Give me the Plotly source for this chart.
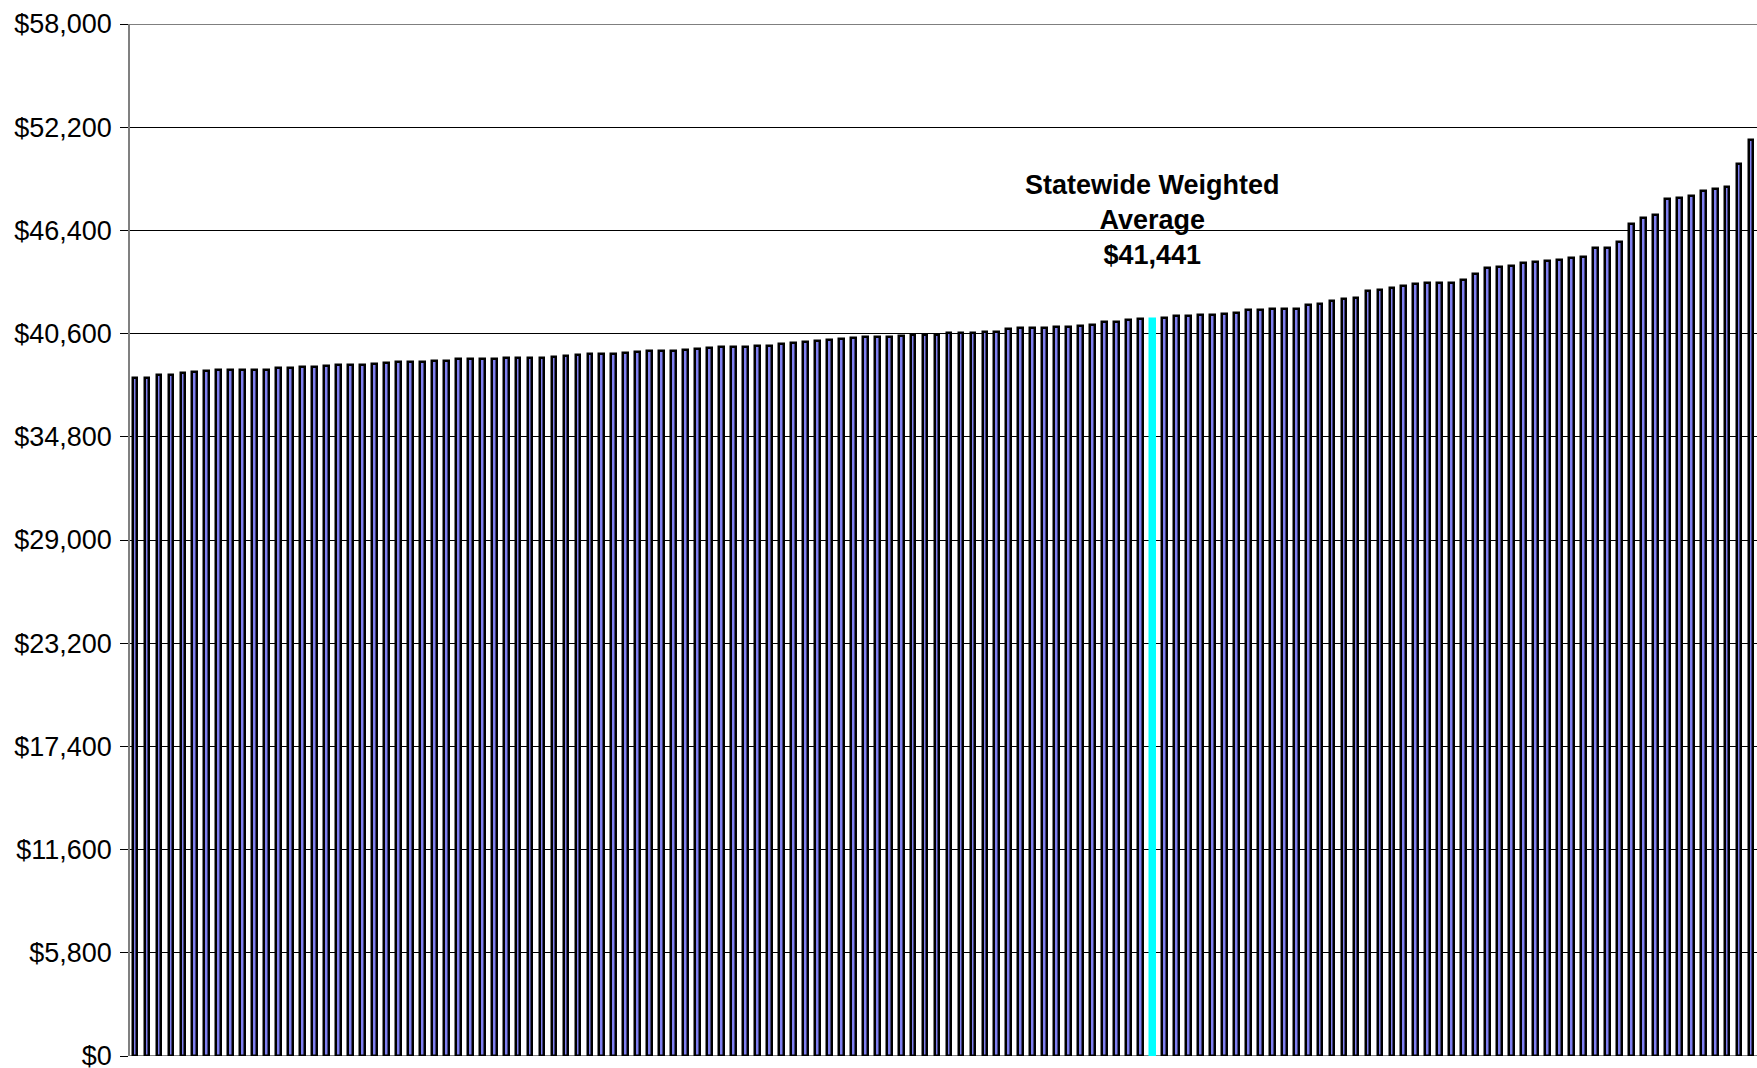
import plotly.graph_objects as go

# Sorted district values
values = [
    38116, 38116, 38246, 38284, 38396, 38470, 38508, 38527, 38527, 38527,
    38527, 38564, 38676, 38695, 38732, 38732, 38807, 38825, 38844, 38863,
    38919, 38937, 38993, 39012, 39031, 39068, 39068, 39199, 39199, 39199,
    39199, 39218, 39240, 39245, 39250, 39292, 39348, 39423, 39479, 39479,
    39479, 39535, 39573, 39629, 39629, 39629, 39666, 39759, 39797, 39853,
    39853, 39853, 39890, 39928, 40021, 40077, 40133, 40208, 40264, 40301,
    40357, 40395, 40413, 40432, 40488, 40520, 40540, 40545, 40619, 40637,
    40637, 40675, 40693, 40843, 40899, 40918, 40925, 40974, 40992, 41048,
    41086, 41235, 41272, 41366, 41410, 41441, 41459, 41571, 41590, 41627,
    41646, 41683, 41758, 41908, 41945, 41982, 42001, 42001, 42225, 42244,
    42410, 42546, 42621, 42976, 43032, 43145, 43294, 43369, 43425, 43425,
    43463, 43612, 43968, 44286, 44323, 44417, 44585, 44641, 44697, 44754,
    44847, 44922, 45390, 45408, 45745, 46737, 47074, 47242, 48159, 48196,
    48346, 48589, 48720, 48832, 50123, 51508,
]
categories = list(range(len(values)))
average_index = 85
average_value = 41441
annotation_text = "Statewide Weighted<br>Average<br>$41,441"
tick_values = [0, 5800, 11600, 17400, 23200, 29000, 34800, 40600, 46400, 52200, 58000]
tick_labels = ["$0", "$5,800", "$11,600", "$17,400", "$23,200", "$29,000",
               "$34,800", "$40,600", "$46,400", "$52,200", "$58,000"]

fill_colors = ["#00FFFF" if i == average_index else "#8080F0" for i in categories]
line_colors = ["#00FFFF" if i == average_index else "#000000" for i in categories]

fig = go.Figure()
fig.add_trace(go.Bar(
    x=categories,
    y=values,
    width=0.4,
    marker=dict(color=fill_colors, line=dict(color=line_colors, width=2.5)),
    showlegend=False,
))

fig.add_annotation(
    x=average_index, y=46960, xref="x", yref="y",
    text="<b>" + annotation_text + "</b>",
    showarrow=False, align="center", yanchor="middle", xanchor="center",
    font=dict(family="Liberation Sans, Arial, sans-serif", size=27, color="black"),
)

# grid lines at the two range edges (Plotly omits them)
for yv in (tick_values[0], tick_values[-1]):
    fig.add_shape(type="line", xref="paper", yref="y", x0=0, x1=1, y0=yv, y1=yv,
                  line=dict(color="black", width=1), layer="below")

fig.update_layout(
    width=1757, height=1068,
    margin=dict(l=130, r=0, t=24, b=12, autoexpand=False),
    paper_bgcolor="white", plot_bgcolor="white",
    font=dict(family="Liberation Sans, Arial, sans-serif", size=27, color="black"),
    bargap=0,
    xaxis=dict(range=[-0.42, 135.5], showticklabels=False, showgrid=False,
               zeroline=False, showline=False, ticks="", automargin=False),
    yaxis=dict(range=[0, 58000], tickvals=tick_values, ticktext=tick_labels,
               showgrid=True, gridcolor="black", gridwidth=1,
               zeroline=False, automargin=False,
               showline=True, linecolor="#808080", linewidth=1.5,
               ticks="outside", ticklen=8, tickcolor="black", tickwidth=1,
               ticklabeloverflow="allow", ticklabelstandoff=3,
               tickfont=dict(size=27)),
)

fig.write_html("out.html")
